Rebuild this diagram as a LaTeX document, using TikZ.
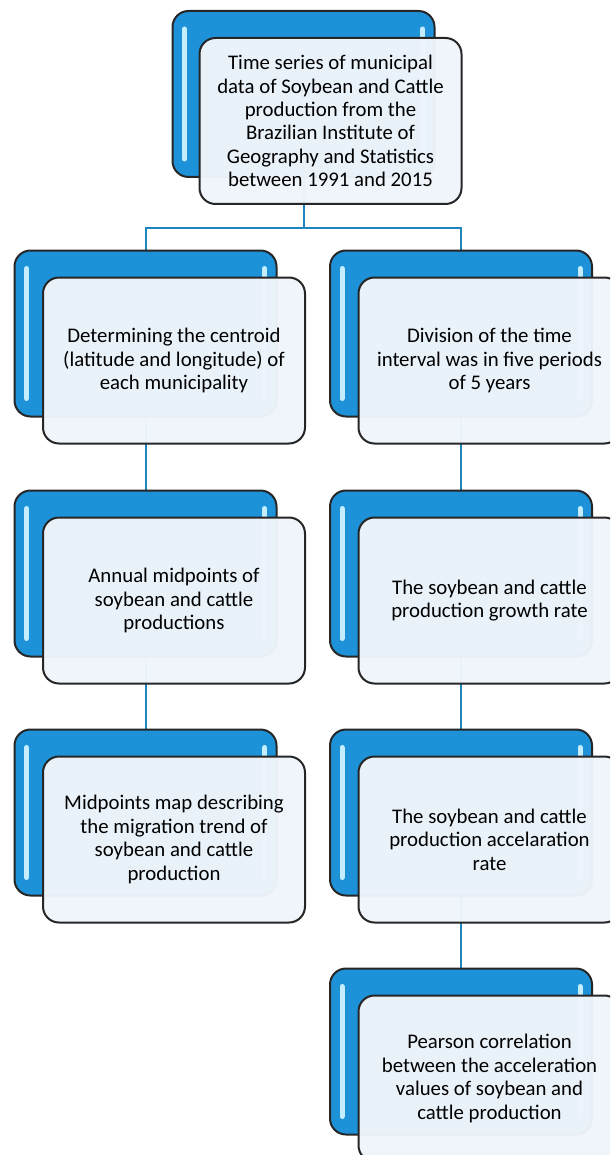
\documentclass[tikz,border=0pt]{standalone}
\usepackage{fontspec}
\setmainfont{Carlito}
\usetikzlibrary{backgrounds}

\definecolor{boxblue}{RGB}{30,146,216}
\definecolor{linkblue}{RGB}{30,132,190}
\definecolor{paleface}{RGB}{240,245,251}
\definecolor{glint}{RGB}{196,238,255}

\tikzset{
  back/.style={draw=black!85, line width=1pt, rounded corners=8pt, fill=boxblue,
    minimum width=131pt, minimum height=83pt, inner sep=0pt,
    path picture={
      \draw[glint, line width=2.5pt, line cap=round]
        ([xshift=6pt,yshift=-9pt]path picture bounding box.north west) --
        ([xshift=6pt,yshift=9pt]path picture bounding box.south west);
      \draw[glint, line width=2.5pt, line cap=round]
        ([xshift=-6pt,yshift=-9pt]path picture bounding box.north east) --
        ([xshift=-6pt,yshift=9pt]path picture bounding box.south east);
    }},
  front/.style={draw=black!85, line width=1pt, rounded corners=8pt, fill=paleface,
    fill opacity=0.97, text opacity=1, minimum width=131pt, minimum height=83pt,
    align=center, text=black, font=\fontsize{10.4}{11.7}\selectfont},
  link/.style={draw=linkblue, line width=1pt}
}

\begin{document}
\begin{tikzpicture}[x=0.5pt, y=-0.5pt]
    \clip (0,0) rectangle (610,1155);

    % Source data
    \node[back] (tb) at (303.5,94) {};
    \node[front] (tf) at ([shift={(27,27)}]tb) {Time series of municipal\\data of Soybean and Cattle\\production from the\\Brazilian Institute of\\Geography and Statistics\\between 1991 and 2015};

    % Left branch
    \node[back] (lb1) at (145.5,333.5) {};
    \node[front] (lf1) at ([shift={(28.5,27)}]lb1) {Determining the centroid\\(latitude and longitude) of\\each municipality};
    \node[back] (lb2) at (145.5,573.5) {};
    \node[front] (lf2) at ([shift={(28.5,27)}]lb2) {Annual midpoints of\\soybean and cattle\\productions};
    \node[back] (lb3) at (145.5,812.5) {};
    \node[front] (lf3) at ([shift={(28.5,27)}]lb3) {Midpoints map describing\\the migration trend of\\soybean and cattle\\production};

    % Right branch
    \node[back] (rb1) at (461,333.5) {};
    \node[front] (rf1) at ([shift={(28.5,27)}]rb1) {Division of the time\\interval was in five periods\\of 5 years};
    \node[back] (rb2) at (461,573.5) {};
    \node[front] (rf2) at ([shift={(28.5,27)}]rb2) {The soybean and cattle\\production growth rate};
    \node[back] (rb3) at (461,812.5) {};
    \node[front] (rf3) at ([shift={(28.5,27)}]rb3) {The soybean and cattle\\production accelaration\\rate};
    \node[back] (rb4) at (461,1051.5) {};
    \node[front] (rf4) at ([shift={(28.5,27)}]rb4) {Pearson correlation\\between the acceleration\\values of soybean and\\cattle production};

    % Connectors
    \begin{scope}[on background layer]
        \coordinate (split) at (303.5,228);
        \draw[link] (tb.south) -- (split);
        \draw[link] (lb1.north) |- (split) -| (rb1.north);
        \draw[link] (lb1.south) -- (lb2.north);
        \draw[link] (lb2.south) -- (lb3.north);
        \draw[link] (rb1.south) -- (rb2.north);
        \draw[link] (rb2.south) -- (rb3.north);
        \draw[link] (rb3.south) -- (rb4.north);
    \end{scope}
\end{tikzpicture}
\end{document}
